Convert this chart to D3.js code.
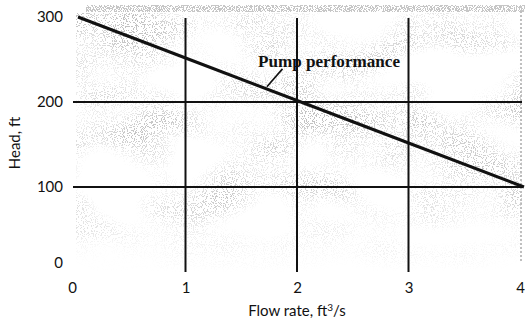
<!DOCTYPE html>
<html>
<head>
<meta charset="utf-8">
<script src="https://cdn.jsdelivr.net/npm/d3@7/dist/d3.min.js"></script>
<style>
  html, body { margin: 0; padding: 0; background: #fff; }
  svg { display: block; }
  .tick text { font-family: Lato, "Open Sans", sans-serif; font-size: 15px; fill: #111; }
  .title { font-family: Lato, "Open Sans", sans-serif; font-size: 15px; fill: #111; }
</style>
</head>
<body>
<svg id="chart" width="525" height="322"></svg>
<script>
// Pump performance curve: head versus flow rate
const flowRates = [0, 1, 2, 3, 4];          // ft^3/s
const headValues = [300, 250, 200, 150, 100]; // ft
const xTicks = [0, 1, 2, 3, 4];
const yTicks = [0, 100, 200, 300];
const xGrid = [1, 2, 3];
const yGrid = [100, 200];
const curveLabel = "Pump performance";

const svg = d3.select("#chart");
const W = 525, H = 322;

const x = d3.scaleLinear().domain([0, 4]).range([74, 520]);
const y = d3.scaleLinear().domain([0, 300]).range([272, 17]);

// Grainy halftone shading behind the plot
const defs = svg.append("defs");
const f = defs.append("filter").attr("id", "grain")
  .attr("x", 0).attr("y", 0).attr("width", 1).attr("height", 1);
f.append("feTurbulence").attr("type", "fractalNoise")
  .attr("baseFrequency", 0.9).attr("numOctaves", 1).attr("seed", 3).attr("result", "fine");
f.append("feColorMatrix").attr("in", "fine").attr("type", "matrix")
  .attr("values", "0 0 0 0 0  0 0 0 0 0  0 0 0 0 0  3 0 0 0 -1.2").attr("result", "dots");
f.append("feComponentTransfer").attr("in", "dots").attr("result", "dotsD")
  .append("feFuncA").attr("type", "discrete").attr("tableValues", "0 0.4");
f.append("feTurbulence").attr("type", "fractalNoise")
  .attr("baseFrequency", "0.012 0.02").attr("numOctaves", 2).attr("seed", 8).attr("result", "coarse");
f.append("feColorMatrix").attr("in", "coarse").attr("type", "matrix")
  .attr("values", "0 0 0 0 0  0 0 0 0 0  0 0 0 0 0  2.6 0 0 0 -0.95").attr("result", "mask");
f.append("feComposite").attr("in", "dotsD").attr("in2", "mask")
  .attr("operator", "arithmetic").attr("k1", 1).attr("k2", 0).attr("k3", 0).attr("k4", 0)
  .attr("result", "shade");
f.append("feFlood").attr("flood-color", "#666").attr("result", "ink");
f.append("feComposite").attr("in", "ink").attr("in2", "shade").attr("operator", "in");

// soft fade of the shading toward the bottom of the plot
const fade = defs.append("linearGradient").attr("id", "fadeGrad")
  .attr("x1", 0).attr("y1", 0).attr("x2", 0).attr("y2", 1);
fade.append("stop").attr("offset", "0%").attr("stop-color", "#fff");
fade.append("stop").attr("offset", "72%").attr("stop-color", "#fff");
fade.append("stop").attr("offset", "100%").attr("stop-color", "#000");
const fadeMask = defs.append("mask").attr("id", "fadeMask")
  .attr("maskUnits", "userSpaceOnUse")
  .attr("x", 0).attr("y", 0).attr("width", W).attr("height", H);
fadeMask.append("rect")
  .attr("x", 0).attr("y", y(300) - 4).attr("width", W).attr("height", y(0) - y(300) + 4)
  .attr("fill", "url(#fadeGrad)");

svg.append("rect")
  .attr("x", x(0) + 2).attr("y", y(300) - 4)
  .attr("width", x(4) - x(0)).attr("height", y(0) - y(300) + 4)
  .attr("fill", "#fff")
  .attr("filter", "url(#grain)")
  .attr("mask", "url(#fadeMask)");

// dotted band along the top edge
const topBand = defs.append("filter").attr("id", "band")
  .attr("x", 0).attr("y", 0).attr("width", 1).attr("height", 1);
topBand.append("feTurbulence").attr("type", "fractalNoise")
  .attr("baseFrequency", 0.9).attr("numOctaves", 1).attr("seed", 5).attr("result", "n");
topBand.append("feColorMatrix").attr("in", "n").attr("type", "matrix")
  .attr("values", "0 0 0 0 0.35  0 0 0 0 0.35  0 0 0 0 0.35  3 0 0 0 -1.0").attr("result", "d");
topBand.append("feComponentTransfer").attr("in", "d")
  .append("feFuncA").attr("type", "discrete").attr("tableValues", "0 0.6");
svg.append("rect")
  .attr("x", x(0) + 12).attr("y", 5)
  .attr("width", W - x(0) - 12).attr("height", 7)
  .attr("fill", "#fff").attr("filter", "url(#band)");

// faint right edge
svg.append("line")
  .attr("x1", x(4) + 1).attr("x2", x(4) + 1)
  .attr("y1", y(300) - 6).attr("y2", y(0) - 10)
  .attr("stroke", "#aaa").attr("stroke-width", 1.5).attr("stroke-dasharray", "2,2");

// gridlines
svg.append("g").selectAll("line").data(xGrid).join("line")
  .attr("x1", d => x(d)).attr("x2", d => x(d))
  .attr("y1", y(300) + 1).attr("y2", y(0))
  .attr("stroke", "#111").attr("stroke-width", 2);
svg.append("g").selectAll("line").data(yGrid).join("line")
  .attr("x1", x(0) - 1).attr("x2", x(4) + 2)
  .attr("y1", d => y(d)).attr("y2", d => y(d))
  .attr("stroke", "#111").attr("stroke-width", 1.8);

// axes (labels only)
const yAxis = svg.append("g")
  .attr("transform", `translate(${x(0)},0)`)
  .call(d3.axisLeft(y).tickValues(yTicks).tickSize(0).tickPadding(11).tickFormat(d3.format("d")));
yAxis.select(".domain").remove();
yAxis.selectAll(".tick").filter(d => d === 0).select("text").attr("dy", "-0.3em");

const xAxis = svg.append("g")
  .attr("transform", `translate(0,${y(0)})`)
  .call(d3.axisBottom(x).tickValues(xTicks).tickSize(0).tickPadding(10).tickFormat(d3.format("d")));
xAxis.select(".domain").remove();
xAxis.selectAll(".tick").filter(d => d === 0).select("text").attr("dx", "-2");

// performance curve
svg.append("path")
  .datum(flowRates.map((q, i) => [q, headValues[i]]))
  .attr("d", d3.line().x(d => x(d[0]) + 4).y(d => y(d[1])))
  .attr("fill", "none").attr("stroke", "#111").attr("stroke-width", 3);

// curve label with leader to the curve
svg.append("line")
  .attr("x1", x(1.87)).attr("y1", y(239))
  .attr("x2", x(1.73)).attr("y2", y(218))
  .attr("stroke", "#111").attr("stroke-width", 1.6);
svg.append("text")
  .attr("x", x(1.65)).attr("y", y(241))
  .attr("font-family", "'Liberation Serif', serif")
  .attr("font-weight", "bold").attr("font-size", 16)
  .attr("textLength", 142).attr("lengthAdjust", "spacingAndGlyphs")
  .attr("fill", "#111")
  .text(curveLabel);

// axis titles
svg.append("text").attr("class", "title")
  .attr("x", (x(0) + x(4)) / 2).attr("y", 316)
  .attr("text-anchor", "middle")
  .html("Flow rate, ft<tspan dy='-5' font-size='10'>3</tspan><tspan dy='5'>/s</tspan>");
svg.append("text").attr("class", "title")
  .attr("transform", `translate(20,${143}) rotate(-90)`)
  .attr("text-anchor", "middle")
  .text("Head, ft");
</script>
</body>
</html>
